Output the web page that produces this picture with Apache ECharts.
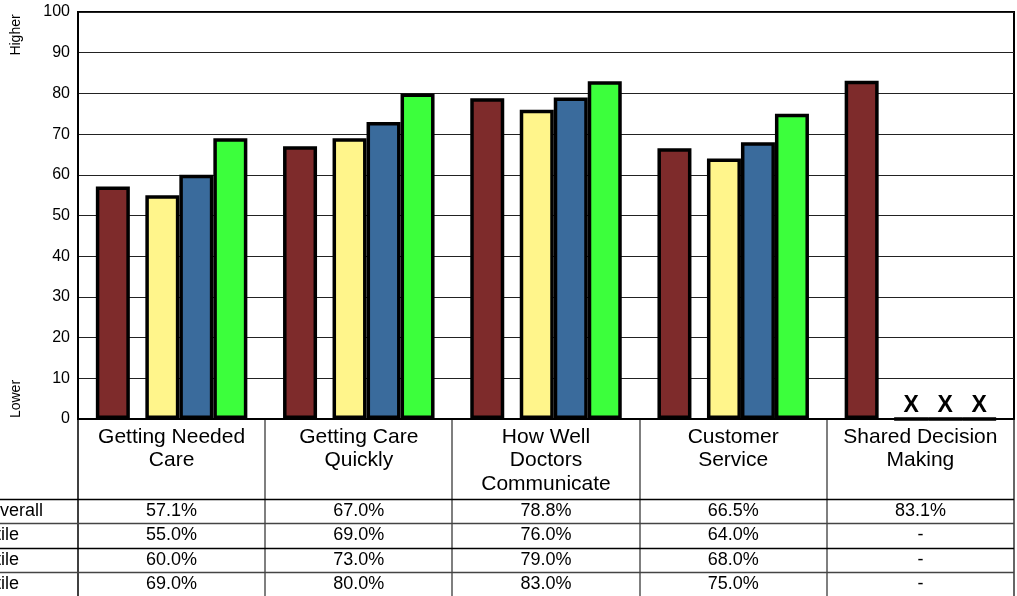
<!DOCTYPE html>
<html>
<head>
<meta charset="utf-8">
<script src="https://cdn.jsdelivr.net/npm/echarts@6/dist/echarts.min.js"></script>
<style>
  html, body { margin: 0; padding: 0; background: #fff; }
  #main { width: 1017px; height: 596px; }
</style>
</head>
<body>
<div id="main"></div>
<script>
// categories and values
var categories = ['Getting Needed\nCare', 'Getting Care\nQuickly', 'How Well\nDoctors\nCommunicate', 'Customer\nService', 'Shared Decision\nMaking'];
var overall = [57.1, 67.0, 78.8, 66.5, 83.1];
var pct25 = [55.0, 69.0, 76.0, 64.0, null];
var pct50 = [60.0, 73.0, 79.0, 68.0, null];
var pct75 = [69.0, 80.0, 83.0, 75.0, null];
var rowLabels = ['Overall', '25th Percentile', '50th Percentile', '75th Percentile'];
var rowValues = [overall, pct25, pct50, pct75];
var yTicks = [0, 10, 20, 30, 40, 50, 60, 70, 80, 90, 100];

var colors = ['#7e2b2b', '#fff58b', '#3a6b9c', '#3cff3c'];
var FONT = 'Liberation Sans, Arial, sans-serif';

var dom = document.getElementById('main');
var myChart = echarts.init(dom);

// missing values -> zero bar marked with an X
function toData(arr) {
	return arr.map(function (v) {
		if (v === null) {
			return {
				value: 0,
				label: { show: true, position: 'top', distance: 0, formatter: 'X', color: '#000', fontSize: 23, fontWeight: 'bold', fontFamily: FONT }
			};
		}
		return v;
	});
}

function barSeries(name, arr, color) {
	return {
		name: name,
		type: 'bar',
		barWidth: 34,
		barGap: '0%',
		data: toData(arr),
		itemStyle: { color: color, borderColor: '#000', borderWidth: 3.5 },
		animation: false
	};
}

var option = {
	animation: false,
	grid: { left: 78, right: 3, top: 12, bottom: 177, show: true, borderColor: '#000', borderWidth: 2 },
	xAxis: {
		type: 'category',
		data: categories,
		axisTick: { show: false },
		axisLine: { lineStyle: { color: '#000', width: 2 } },
		axisLabel: { color: '#000', fontSize: 21, fontFamily: FONT, lineHeight: 23.5, margin: 6, interval: 0 }
	},
	yAxis: {
		type: 'value',
		min: yTicks[0],
		max: yTicks[yTicks.length - 1],
		interval: 10,
		axisTick: { show: false },
		axisLine: { show: true, lineStyle: { color: '#000', width: 2 } },
		axisLabel: { color: '#000', fontSize: 16, fontFamily: FONT, margin: 8 },
		splitLine: { lineStyle: { color: '#222', width: 1 } }
	},
	series: [
		barSeries('Overall', overall, colors[0]),
		// empty spacer between the first bar and the percentile bars
		{ name: 'gap', type: 'bar', barWidth: 15.5, barGap: '0%', data: categories.map(function () { return null; }), itemStyle: { color: 'transparent' } },
		barSeries('25th Percentile', pct25, colors[1]),
		barSeries('50th Percentile', pct50, colors[2]),
		barSeries('75th Percentile', pct75, colors[3])
	]
};
myChart.setOption(option);

// data table under the chart
var plotBottom = 419, tableTop = 499, rowH = 24.25, leftX = 78, rightX = 1014;
var graphics = [];
graphics.push({ type: 'text', x: 16, y: 35, rotation: Math.PI / 2, style: { text: 'Higher', fill: '#000', font: '14px ' + FONT, textAlign: 'center', textVerticalAlign: 'middle' } });
graphics.push({ type: 'text', x: 16, y: 399, rotation: Math.PI / 2, style: { text: 'Lower', fill: '#000', font: '14px ' + FONT, textAlign: 'center', textVerticalAlign: 'middle' } });

var bounds = [];
for (var i = 0; i < categories.length; i++) {
	bounds.push(myChart.convertToPixel({ xAxisIndex: 0 }, i));
}
var step = (rightX - leftX) / categories.length;
// vertical lines
graphics.push({ type: 'line', shape: { x1: leftX, y1: plotBottom, x2: leftX, y2: 596 }, style: { stroke: '#000', lineWidth: 1.5 } });
graphics.push({ type: 'line', shape: { x1: rightX, y1: plotBottom, x2: rightX, y2: 596 }, style: { stroke: '#333', lineWidth: 1.5 } });
for (var k = 1; k < categories.length; k++) {
	var xb = Math.round(leftX + step * k);
	graphics.push({ type: 'line', shape: { x1: xb, y1: plotBottom, x2: xb, y2: 596 }, style: { stroke: '#555', lineWidth: 1.5 } });
}
// horizontal lines and rows
for (var r = 0; r < rowLabels.length; r++) {
	var yl = Math.round(tableTop + rowH * r) + 0.5;
	graphics.push({ type: 'line', shape: { x1: 0, y1: yl, x2: rightX, y2: yl }, style: { stroke: r % 2 ? '#444' : '#000', lineWidth: 1.3 } });
	var yc = tableTop + rowH * r + rowH / 2;
	if (r === 0) {
		graphics.push({ type: 'text', x: -14, y: yc, style: { text: rowLabels[r], fill: '#000', font: '18px ' + FONT, textAlign: 'left', textVerticalAlign: 'middle' } });
	} else {
		graphics.push({ type: 'text', x: 19, y: yc, style: { text: rowLabels[r], fill: '#000', font: '18px ' + FONT, textAlign: 'right', textVerticalAlign: 'middle' } });
	}
	for (var c = 0; c < categories.length; c++) {
		var v = rowValues[r][c];
		graphics.push({ type: 'text', x: bounds[c], y: yc, style: { text: v === null ? '-' : v.toFixed(1) + '%', fill: '#000', font: '18px ' + FONT, textAlign: 'center', textVerticalAlign: 'middle' } });
	}
}
myChart.setOption({ graphic: { elements: graphics } });
</script>
</body>
</html>
